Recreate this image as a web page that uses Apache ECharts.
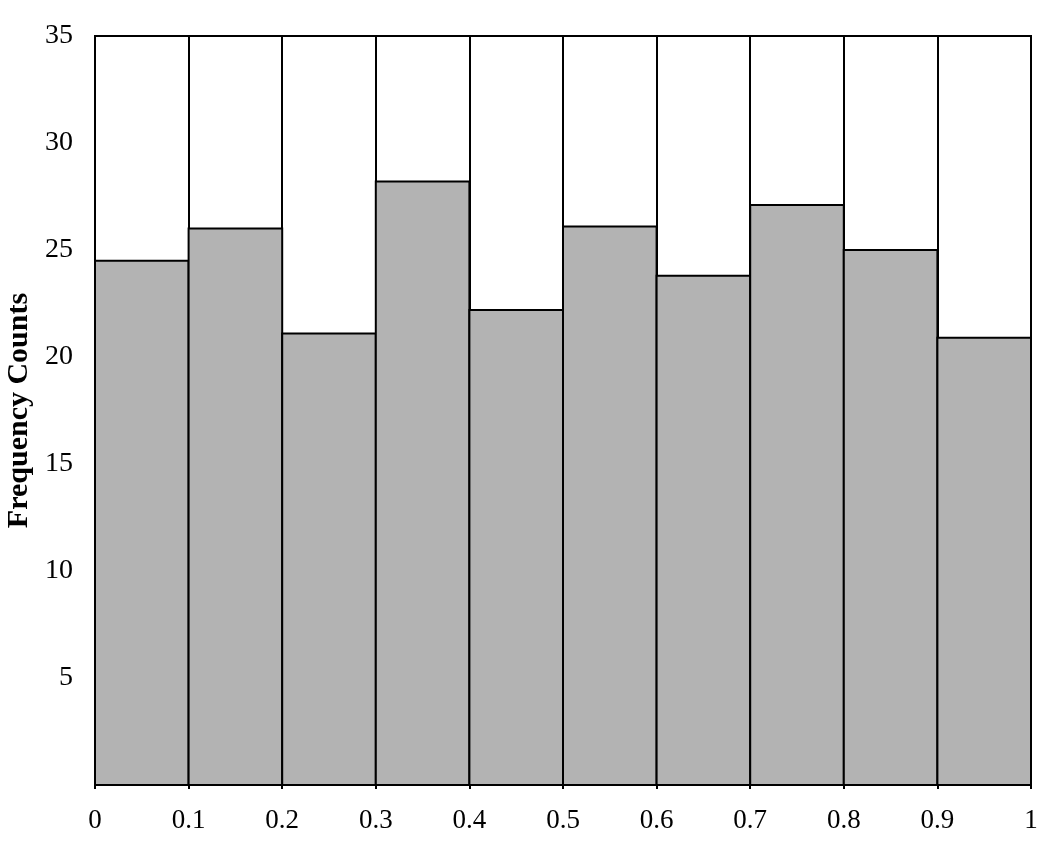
<!DOCTYPE html>
<html>
<head>
<meta charset="utf-8">
<script src="https://cdn.jsdelivr.net/npm/echarts@6/dist/echarts.min.js"></script>
<style>
html,body{margin:0;padding:0;background:#fff;}
#chart{width:1054px;height:844px;}
</style>
</head>
<body>
<div id="chart"></div>
<script>
const binStarts = [0, 0.1, 0.2, 0.3, 0.4, 0.5, 0.6, 0.7, 0.8, 0.9];
const binEnds   = [0.1, 0.2, 0.3, 0.4, 0.5, 0.6, 0.7, 0.8, 0.9, 1.0];
const counts    = [24.5, 26.0, 21.1, 28.2, 22.2, 26.1, 23.8, 27.1, 25.0, 20.9];
const xTickLabels = ['0','0.1','0.2','0.3','0.4','0.5','0.6','0.7','0.8','0.9','1'];
const yAxisTitle = 'Frequency Counts';

const data = binStarts.map((s, i) => [s, binEnds[i], counts[i]]);
const FONT = '"Liberation Serif", "DejaVu Serif", serif';

const chart = echarts.init(document.getElementById('chart'));
chart.setOption({
  animation: false,
  backgroundColor: '#fff',
  grid: { left: 95, right: 23, top: 36, bottom: 59, outerBoundsMode: 'none', containLabel: false,
          show: true, borderColor: '#000', borderWidth: 2, backgroundColor: 'transparent' },
  xAxis: {
    type: 'value', min: 0, max: 1, interval: 0.1,
    axisLine: { show: true, lineStyle: { color: '#000', width: 2 } },
    axisTick: { show: true, length: 4, lineStyle: { color: '#000', width: 2 } },
    splitLine: { show: true, lineStyle: { color: '#000', width: 2 } },
    axisLabel: {
      color: '#000', fontFamily: FONT, fontSize: 27, margin: 22,
      formatter: (v) => xTickLabels[Math.round(v * 10)]
    }
  },
  yAxis: {
    type: 'value', min: 0, max: 35, interval: 5,
    name: yAxisTitle, nameLocation: 'middle', nameGap: 60, nameRotate: 90,
    nameTextStyle: { color: '#000', fontFamily: FONT, fontSize: 30, fontWeight: 'bold' },
    axisLine: { show: true, lineStyle: { color: '#000', width: 2 } },
    axisTick: { show: false },
    splitLine: { show: false },
    axisLabel: {
      color: '#000', fontFamily: FONT, fontSize: 28, margin: 22,
      formatter: (v) => v === 0 ? '' : String(v)
    }
  },
  series: [{
    type: 'custom',
    data: data,
    encode: { x: [0, 1], y: 2 },
    z: 1,
    renderItem: function (params, api) {
      const p0 = api.coord([api.value(0), api.value(2)]);
      const p1 = api.coord([api.value(1), 0]);
      return {
        type: 'rect',
        shape: { x: p0[0], y: p0[1], width: p1[0] - p0[0], height: p1[1] - p0[1] },
        style: { fill: '#b3b3b3', stroke: '#000', lineWidth: 2 }
      };
    }
  }]
});
</script>
</body>
</html>
